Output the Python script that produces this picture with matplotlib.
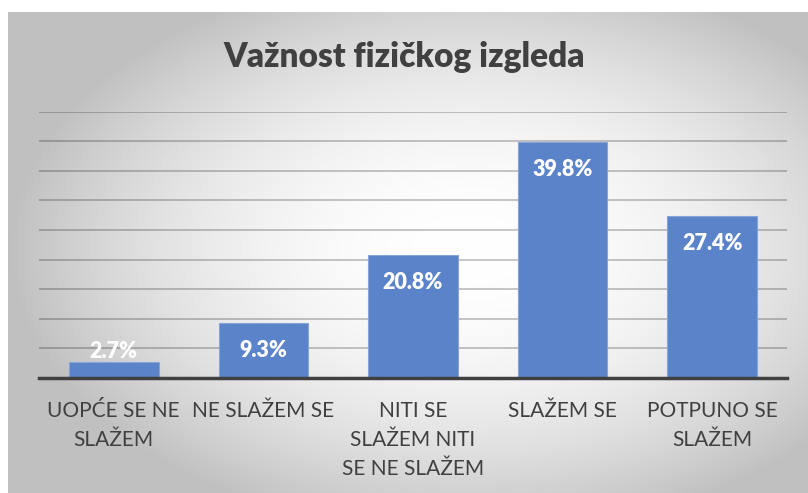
import numpy as np
import matplotlib
matplotlib.use("Agg")
import matplotlib.pyplot as plt

categories = ["UOPĆE SE NE\nSLAŽEM", "NE SLAŽEM SE", "NITI SE\nSLAŽEM NITI\nSE NE SLAŽEM",
              "SLAŽEM SE", "POTPUNO SE\nSLAŽEM"]
values = [2.7, 9.3, 20.8, 39.8, 27.4]
value_labels = ["2.7%", "9.3%", "20.8%", "39.8%", "27.4%"]
title = "Važnost fizičkog izgleda"

W, H = 808, 493
fig = plt.figure(figsize=(W / 100, H / 100), dpi=100)
fig.patch.set_facecolor("white")

# background radial gradient panel
bx0, by0 = 8, 12
bg = fig.add_axes([bx0 / W, 0, (W - bx0) / W, (H - by0) / H], zorder=0)
xs = np.linspace(bx0, W, 400)
ys = np.linspace(by0, H, 250)
X, Y = np.meshgrid(xs, ys)
cx, cy, ax_, ay_ = 470, 250, 420, 260
d2 = ((X - cx) / ax_) ** 2 + ((Y - cy) / ay_) ** 2
g = np.clip(255 - 52 * d2, 192, 255) / 255.0
img = np.dstack([g, g, g])
bg.imshow(img, extent=[0, 1, 0, 1], aspect="auto", origin="upper")
bg.axis("off")

left, right = 39 / W, 787 / W
bottom, top = 1 - 378 / H, 1 - 111.6 / H
ax = fig.add_axes([left, bottom, right - left, top - bottom], zorder=1)
ax.patch.set_alpha(0)

x = np.arange(len(values))
ax.bar(x, values, width=0.6, color="#5b83c9", edgecolor="#86a4da", linewidth=0.8, zorder=3)
ax.set_xlim(-0.5, len(values) - 0.5)
ax.set_ylim(0, 45)
ax.set_yticks(np.arange(0, 46, 5))
ax.yaxis.grid(True, color="black", alpha=0.22, linewidth=1.4, zorder=0)
ax.set_axisbelow(True)
for s in ["top", "right", "left"]:
    ax.spines[s].set_visible(False)
ax.spines["bottom"].set_color("#404040")
ax.spines["bottom"].set_linewidth(2.5)
ax.spines["bottom"].set_zorder(4)
ax.tick_params(axis="y", left=False, labelleft=False)
ax.tick_params(axis="x", bottom=False, pad=13)
ax.set_xticks(x)
ax.set_xticklabels(categories, fontsize=15, color="#404040", family="Lato",
                   linespacing=1.55, va="top")

for xi, v, lab in zip(x, values, value_labels):
    ly = max(v - 4.6, 4.4)
    ax.text(xi, ly, lab, ha="center", va="center", color="white", fontsize=15.5,
            fontweight="heavy", family="Lato", zorder=5)

fig.text(0.5, 1 - 57 / H, title, ha="center", va="center", fontsize=24,
         fontweight="heavy", color="#404040", family="Lato")

fig.savefig("out.png", dpi=100)
